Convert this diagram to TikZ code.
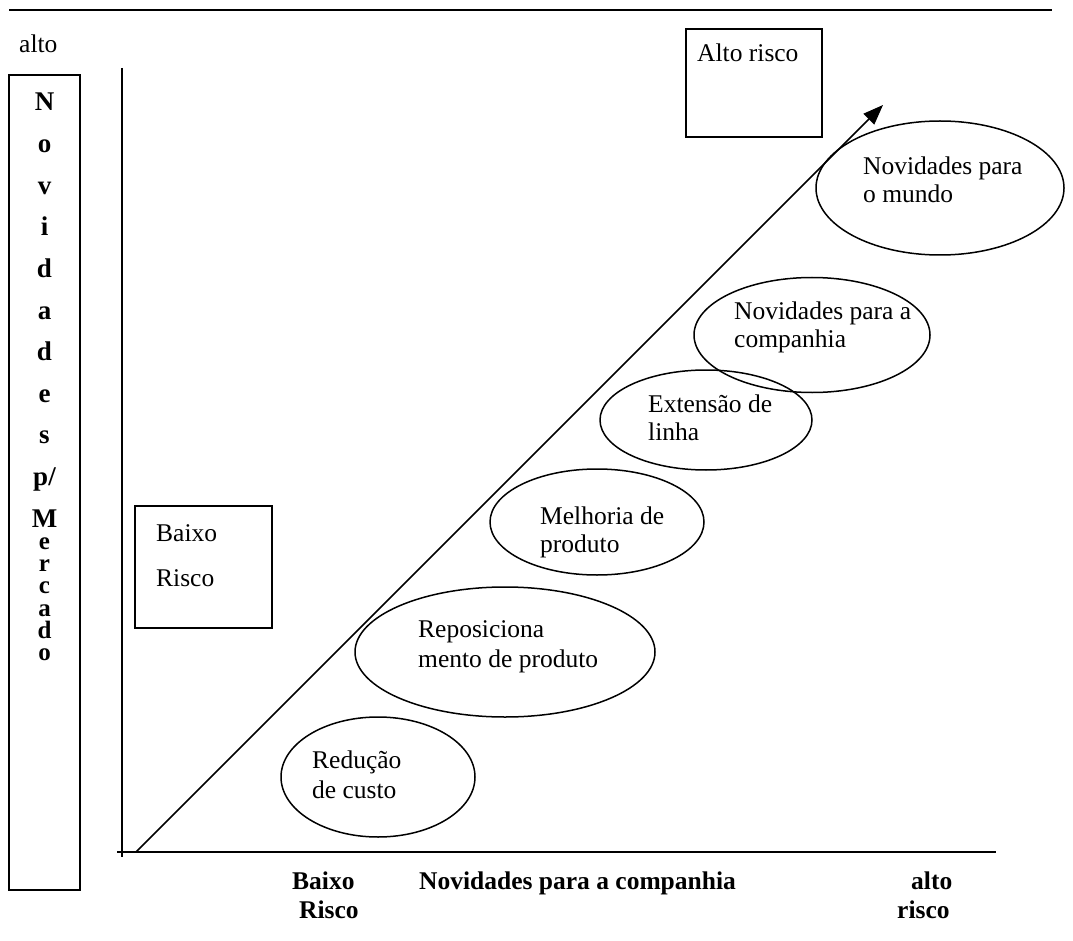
\documentclass[tikz,border=0pt]{standalone}
\usepackage{fontspec}
\setmainfont{Liberation Serif}
\usetikzlibrary{shapes.geometric,arrows.meta}
\tikzset{
  ln/.style={line width=1.5pt},
  ell/.style={ellipse,draw,line width=1.5pt,inner sep=0pt},
  box/.style={draw,line width=1.5pt,inner sep=0pt},
  txt/.style={anchor=base west,inner sep=0pt,font=\fontsize{25.5}{29}\selectfont},
  btxt/.style={anchor=base west,inner sep=0pt,font=\fontsize{25.5}{29}\selectfont\bfseries},
  vtxt/.style={anchor=base,inner sep=0pt,font=\fontsize{27}{27}\selectfont\bfseries},
  vstxt/.style={anchor=base,inner sep=0pt,font=\fontsize{25}{25}\selectfont\bfseries},
}
\begin{document}
\begin{tikzpicture}[x=1pt,y=-1pt]
\useasboundingbox (0,0) rectangle (1073,941);
% top rule
\coordinate (tl) at (9,10);
\coordinate (tr) at (1052,10);
\draw[ln] (tl) -- (tr);
\node[txt] (alto) at (19,53) {alto};
% vertical label box
\node[box,minimum width=71pt,minimum height=815pt] (vbox) at (44.5,482.5) {};
\foreach \l/\y [count=\i] in {N/111,o/152.6,v/194.2,i/235.8,d/277.4,a/319,d/360.6,e/402.2,s/443.8,{p/}/485.4,M/527}
  \node[vtxt] (v\i) at (44.5,\y) {\l};
\foreach \l/\y [count=\i] in {e/549.3,r/571.6,c/593.9,a/616.2,d/638.5,o/660.8}
  \node[vstxt] (w\i) at (44.5,\y) {\l};
% axes
\coordinate (yt) at (122,68);
\coordinate (yb) at (122,857);
\coordinate (xl) at (117,852);
\coordinate (xr) at (996,852);
\draw[ln] (yt) -- (yb);
\draw[ln] (xl) -- (xr);
% diagonal arrow
\coordinate (as) at (136,852);
\coordinate (ae) at (883,105);
\draw[ln,-{Triangle[length=20pt,width=15pt]}] (as) -- (ae);
% risk boxes
\node[box,minimum width=136pt,minimum height=108pt] (hibox) at (754,83) {};
\node[txt] (hitxt) at (697,62) {Alto risco};
\node[box,minimum width=137pt,minimum height=122pt] (lobox) at (203.5,567) {};
\node[txt] (lot1) at (156,541) {Baixo};
\node[txt] (lot2) at (156,586) {Risco};
% ellipses
\node[ell,minimum width=194pt,minimum height=120pt] (e1) at (378,777) {};
\node[ell,minimum width=300pt,minimum height=130pt] (e2) at (505,652) {};
\node[ell,minimum width=214pt,minimum height=106pt] (e3) at (597,522) {};
\node[ell,minimum width=212pt,minimum height=100pt] (e4) at (706,420) {};
\node[ell,minimum width=236pt,minimum height=115pt] (e5) at (812,335) {};
\node[ell,minimum width=248pt,minimum height=134pt] (e6) at (940,188) {};
% ellipse texts
\node[txt] (t1a) at (312,768) {Redução};
\node[txt] (t1b) at (312,798) {de custo};
\node[txt] (t2a) at (418,637) {Reposiciona};
\node[txt] (t2b) at (418,667) {mento de produto};
\node[txt] (t3a) at (540,524) {Melhoria de};
\node[txt] (t3b) at (540,552) {produto};
\node[txt] (t4a) at (648,412) {Extensão de};
\node[txt] (t4b) at (648,440) {linha};
\node[txt] (t5a) at (734,319) {Novidades para a};
\node[txt] (t5b) at (734,347) {companhia};
\node[txt] (t6a) at (863,175) {Novidades para};
\node[txt] (t6b) at (863,203) {o mundo};
% bottom labels
\node[btxt] (bb1) at (292,889) {Baixo};
\node[btxt] (bb2) at (299,918) {Risco};
\node[btxt] (bmid) at (419,889) {Novidades para a companhia};
\node[btxt] (ba1) at (911,889) {alto};
\node[btxt] (ba2) at (897,918) {risco};
\end{tikzpicture}
\end{document}
